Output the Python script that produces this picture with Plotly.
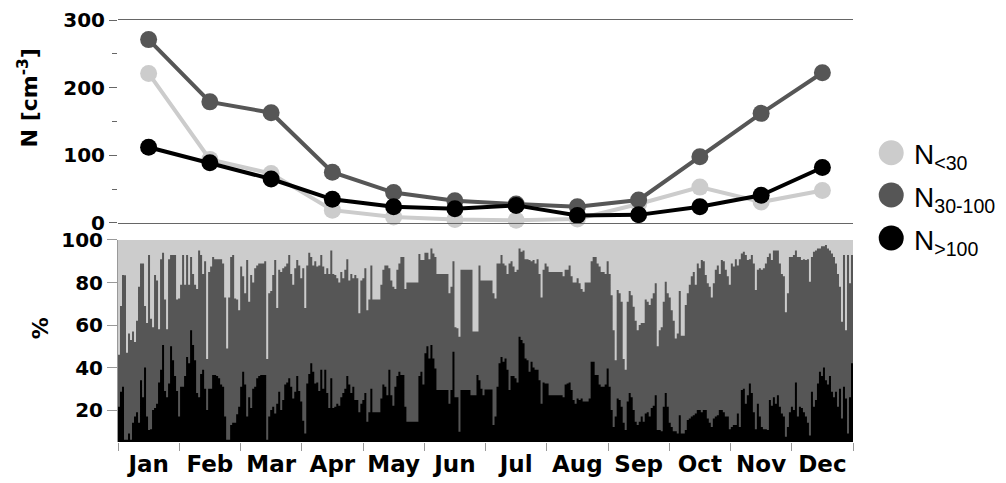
import numpy as np
import plotly.graph_objects as go

months = ["Jan", "Feb", "Mar", "Apr", "May", "Jun", "Jul", "Aug", "Sep", "Oct", "Nov", "Dec"]

# Monthly mean number concentrations [cm^-3]
n_lt30 = [221, 94, 73, 19, 9, 5, 4, 6, 28, 53, 31, 48]
n_30_100 = [271, 179, 163, 75, 45, 33, 28, 24, 34, 98, 162, 222]
n_gt100 = [112, 89, 65, 35, 24, 21, 26, 11, 12, 24, 41, 82]

# Daily fractions (%): upper edge of N30-100 band (N>100 + N30-100)
pct_upper_30_100 = [
    46, 69, 83.5, 83.4, 47, 56, 53, 57, 52, 62, 78, 89, 89, 69, 61, 93, 63, 59, 83.5, 81, 58, 91, 94, 72, 58, 91, 93, 93, 93, 72, 72.5,
    79, 93, 79, 93, 79, 92, 84, 79, 77, 95, 93, 84, 90, 44, 85, 87.5, 92, 91, 91, 91, 91, 89, 73, 49, 73, 92, 93, 72.5, 72, 67,
    87.5, 83, 75, 90.6, 71, 83.5, 80, 86.7, 88, 89, 89, 89, 90, 44, 75, 76, 83.5, 90.6, 68, 86, 85, 86.7, 87.5, 89, 93, 84, 79, 86.7, 90.6, 88,
    82, 86.7, 68, 88, 94, 92, 88, 90, 87.5, 88, 93, 87.5, 84, 86.7, 84, 95, 84, 83.5, 82, 80, 85, 82, 86, 91, 81, 84, 82, 83.5, 82, 65.5, 81,
    82, 86.7, 67, 72, 88, 72, 72, 72, 72, 79, 86, 88, 88, 86.7, 81, 78, 77, 86, 89, 92, 92, 77, 80, 80, 80, 80, 80, 80, 93.4, 90.6,
    90.6, 94, 94, 91, 96, 93.7, 92, 84, 84, 84, 84, 84, 84, 75, 78, 90, 59, 58.5, 54.5, 86, 86, 86, 86, 86, 86, 57, 57, 57, 88, 81, 81,
    81, 81, 81, 81, 75, 72.5, 89, 89, 93, 89, 88, 84, 89, 90, 87.5, 85, 86, 96, 94.5, 95, 91, 91, 90.6, 90, 90.6, 89, 91, 84, 73, 86,
    89, 87.5, 85, 85, 85, 85, 85, 85, 85, 83, 86, 86, 88, 83, 80, 80, 82, 79.6, 77, 75.7, 80, 80, 80, 90, 92, 92, 89, 87.5, 85, 85, 84,
    90, 84, 74, 57.6, 43.5, 76.5, 75, 71, 44, 39, 71, 76, 74, 68.6, 62, 57.6, 60, 61, 61, 72, 71, 69.4, 72.5, 75, 79.6, 50, 57.6, 59, 71, 80.4,
    75, 73, 67, 62, 53.7, 56, 76, 55, 55, 69.4, 75, 79, 83, 85, 79, 89, 86.7, 90.6, 90, 83.5, 79.6, 78, 73, 79.6, 86, 88, 84, 90.6, 90, 86, 83,
    79, 89, 87.5, 91, 88, 91, 93.7, 94.5, 93, 90.6, 91, 93, 89, 76.5, 86, 86.7, 86, 86.7, 89, 92, 93.7, 90.6, 95, 95, 95, 89, 84, 83, 66, 75,
    92, 92, 93, 95, 92, 92, 90.6, 91, 90.6, 91, 80.4, 92, 94.5, 95, 96, 96, 97, 97, 97.6, 96, 95, 93.7, 92, 89, 84, 78, 61.6, 93, 57.6, 93, 79.6, 93,
]

# Daily fraction (%) of N>100
pct_gt100 = [
    21.6, 28.6, 31, 6, 6, 9, 6, 14, 17, 19, 14, 34, 26, 40, 17, 10.6, 11, 20, 21, 23, 33, 39, 50.6, 29, 26, 32.5, 50, 43.5, 36, 29, 17,
    31, 31, 36, 45, 42, 57.6, 50.6, 43.5, 28, 26, 37, 39, 30, 20, 30, 30, 36.5, 36.5, 36, 35, 32, 31, 17, 6, 6, 13, 14, 14, 18, 21.6,
    31, 38, 32, 17, 26, 21, 30, 31, 35, 36, 36.5, 36.5, 36.5, 6, 17, 20, 21.6, 18.4, 23, 28.6, 20, 24.7, 32, 33, 35, 31, 25.5, 28.6, 36, 29,
    24, 15, 9, 32.5, 37, 42, 38, 32.5, 33, 29, 39, 30, 39, 28, 21, 35, 21, 21.6, 23, 22, 26, 28, 30, 36, 32, 28, 31, 24.7, 24.7, 19, 23,
    24.7, 28, 14.5, 19, 30, 19, 19, 19, 19, 25.5, 32, 31, 27, 39, 27, 22, 31, 36, 38, 36.5, 36.5, 21.6, 14.5, 14.5, 14.5, 14.5, 14.5, 14.5, 36, 38,
    32, 46.7, 50, 44.3, 50.6, 44.3, 39.6, 29.4, 29.4, 29.4, 29.4, 29.4, 29.4, 23, 29.4, 47.5, 26, 26, 9.8, 29.4, 29.4, 29.4, 29.4, 29.4, 27, 27, 27, 36.5, 34, 30, 27,
    29.7, 29.7, 29.7, 29.7, 13, 17, 31, 42, 45, 42.7, 44.3, 39, 29.4, 36, 36, 35, 33, 54.5, 53, 51.4, 44.3, 43.5, 38, 42.7, 40, 39, 39, 34, 23, 33,
    32.5, 32.5, 27, 27, 27, 27, 27, 27, 27, 26, 32, 32.5, 33, 29.4, 24.7, 23, 25.5, 24.7, 25.5, 24, 24, 24, 25.5, 42.7, 42.7, 36.5, 36.5, 32, 31, 31, 32,
    39.6, 31, 20, 12, 17, 25.5, 24.7, 21.6, 14, 10.6, 24, 28, 26, 20, 14.5, 13, 14.5, 17, 14.5, 18.4, 19, 17, 21, 22, 27, 10.6, 10.6, 10, 21.6, 28,
    21.6, 14, 12, 10, 10, 9, 17.6, 9, 9, 10.6, 15.3, 16, 17, 17.6, 18.4, 20, 20, 19, 20, 20, 16, 14, 12, 16, 17, 17.6, 20, 20, 19, 17, 17,
    11, 12, 13, 13, 18.4, 12, 29.4, 30, 23, 27, 32.5, 28, 19, 11, 23, 17, 12, 11, 11, 10.6, 24.7, 22, 26, 23, 27, 21.6, 18.4, 17, 7.5, 12,
    19, 21.6, 20, 33, 17, 21.6, 21, 19, 17, 14, 8, 28.6, 21.6, 24.7, 32.5, 38, 36, 40, 34, 32, 36, 28.6, 26, 28.6, 21.6, 30, 16, 31, 25.5, 9, 26, 42,
]

LIGHT = "#cccccc"
DARK = "#565656"
BLACK = "#000000"
FONT = "DejaVu Sans, Verdana, sans-serif"
LEGFONT = "Liberation Sans, Arial, sans-serif"

fig = go.Figure()

# ---- top panel: monthly means ----
xm = [i + 0.5 for i in range(12)]
for vals, col, name in [(n_lt30, LIGHT, "N<30"), (n_30_100, DARK, "N30-100"), (n_gt100, BLACK, "N>100")]:
    fig.add_trace(go.Scatter(x=xm, y=vals, mode="lines+markers", name=name,
                             line=dict(color=col, width=4), marker=dict(color=col, size=17),
                             xaxis="x", yaxis="y", showlegend=False, cliponaxis=False))

# ---- bottom panel: daily fractions ----
n = len(pct_gt100)
edges = np.linspace(0, 12, n + 1)
fig.add_trace(go.Scatter(x=[0, 12], y=[100, 100], mode="lines", fill="tozeroy",
                         fillcolor=LIGHT, line=dict(width=0, color=LIGHT),
                         xaxis="x2", yaxis="y2", showlegend=False))
fig.add_trace(go.Scatter(x=edges, y=list(pct_upper_30_100) + [pct_upper_30_100[-1]], mode="lines",
                         line_shape="hv", fill="tozeroy", fillcolor=DARK, line=dict(width=0, color=DARK),
                         xaxis="x2", yaxis="y2", showlegend=False))
fig.add_trace(go.Scatter(x=edges, y=list(pct_gt100) + [pct_gt100[-1]], mode="lines",
                         line_shape="hv", fill="tozeroy", fillcolor=BLACK, line=dict(width=0, color=BLACK),
                         xaxis="x2", yaxis="y2", showlegend=False))

ytickfont = dict(family=FONT, size=20, color="black", weight="bold")
xtickfont = dict(family=FONT, size=23, color="black", weight="bold")

fig.update_layout(
    width=1006, height=483,
    margin=dict(l=118, r=153, t=20, b=41, autoexpand=False),
    paper_bgcolor="white", plot_bgcolor="white",
    hovermode=False,
    xaxis=dict(domain=[0, 1], anchor="y", range=[0, 12], showline=True, mirror=True,
               linecolor="#666666", linewidth=1, showticklabels=False, ticks="",
               showgrid=False, zeroline=False, automargin=False),
    yaxis=dict(domain=[0.519, 1], anchor="x", range=[0, 300], tickvals=[0, 100, 200, 300],
               ticks="outside", ticklen=8, tickcolor="#666666", tickwidth=1,
               minor=dict(dtick=50, tick0=0, ticks="outside", ticklen=5, tickcolor="#666666"),
               showline=False, showgrid=False, zeroline=False, tickfont=ytickfont, automargin=False),
    xaxis2=dict(domain=[0, 1], anchor="y2", range=[0, 12], tickvals=xm, ticktext=months,
                ticks="", showline=False, showgrid=False, zeroline=False, tickfont=xtickfont,
                ticklabelstandoff=6, automargin=False,
                minor=dict(tickvals=list(range(13)), ticks="outside", ticklen=8,
                           tickcolor="#999999", tickwidth=1)),
    yaxis2=dict(domain=[0, 0.4787], anchor="x2", range=[5, 100], tickvals=[20, 40, 60, 80, 100],
                ticks="outside", ticklen=10, tickcolor="#999999", tickwidth=1,
                showline=True, linecolor="#999999", linewidth=1, automargin=False,
                showgrid=False, zeroline=False, tickfont=ytickfont),
)

# axis titles
fig.add_annotation(text="N [cm<sup>-3</sup>]", xref="paper", yref="paper", x=-0.122, y=0.815,
                   textangle=-90, showarrow=False, xanchor="center", yanchor="middle",
                   font=dict(family=FONT, size=22, color="black", weight="bold"))
fig.add_annotation(text="%", xref="paper", yref="paper", x=-0.106, y=0.27,
                   textangle=-90, showarrow=False, xanchor="center", yanchor="middle",
                   font=dict(family=FONT, size=22, color="black", weight="bold"))

# legend (manual)
legend_items = [(LIGHT, "N<sub>&lt;30</sub>", 0.6855), (DARK, "N<sub>30-100</sub>", 0.5853), (BLACK, "N<sub>&gt;100</sub>", 0.4834)]
for col, txt, yy in legend_items:
    fig.add_shape(type="circle", xref="paper", yref="paper", xsizemode="pixel", ysizemode="pixel",
                  xanchor=1.052, yanchor=yy, x0=-12.5, x1=12.5, y0=-12.5, y1=12.5,
                  fillcolor=col, line=dict(width=0))
    fig.add_annotation(text=txt, xref="paper", yref="paper", x=1.080, y=yy, xanchor="left",
                       yanchor="middle", showarrow=False, yshift=-4,
                       font=dict(family=LEGFONT, size=28, color="black"))

fig.write_html("out.html", config={"displayModeBar": False, "staticPlot": True},
               post_script="document.body.style.margin='0px';")
